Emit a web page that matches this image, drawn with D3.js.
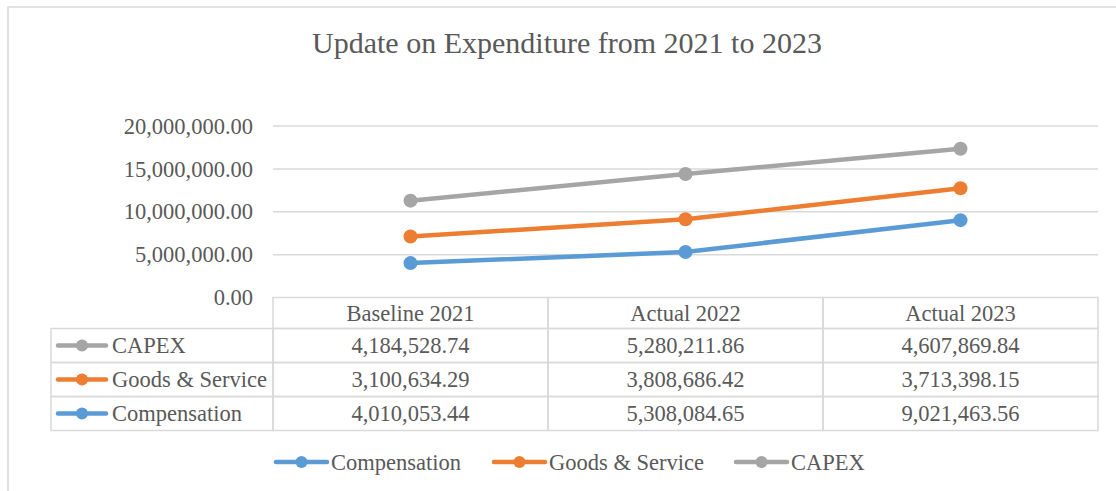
<!DOCTYPE html>
<html>
<head>
<meta charset="utf-8">
<script src="https://cdn.jsdelivr.net/npm/d3@7"></script>
<style>
  html, body { margin: 0; padding: 0; background: #fff; }
  svg { display: block; }
</style>
</head>
<body>
<svg id="chart" width="1116" height="491"></svg>
<script>
// Expenditure by category (stacked line chart with data table)
const categories = ["Baseline 2021", "Actual 2022", "Actual 2023"];
const compensation = [4010053.44, 5308084.65, 9021463.56];
const goodsService = [3100634.29, 3808686.42, 3713398.15];
const capex = [4184528.74, 5280211.86, 4607869.84];
const seriesNames = ["Compensation", "Goods & Service", "CAPEX"];
const seriesColors = ["#5b9bd5", "#ed7d31", "#a5a5a5"];
const yTicks = [0, 5000000, 10000000, 15000000, 20000000];

const FONT = "Liberation Serif";
const TEXT_COLOR = "#595959";
const LABEL_SIZE = 22.5;
const svg = d3.select("#chart");
const W = 1116, H = 491;

function styleText(sel, size) {
  return sel.attr("font-family", FONT)
    .attr("font-size", size)
    .attr("fill", TEXT_COLOR);
}

// outer chart frame
svg.append("rect")
  .attr("x", 8).attr("y", 7)
  .attr("width", W + 20).attr("height", H + 20)
  .attr("fill", "#fff").attr("stroke", "#d9d9d9").attr("stroke-width", 1.5);

// title
styleText(svg.append("text"), 30)
  .attr("x", 567).attr("y", 53)
  .attr("text-anchor", "middle")
  .text("Update on Expenditure from 2021 to 2023");

const plotLeft = 273, plotRight = 1098, plotTop = 126, plotBottom = 297.5;

const x = d3.scaleBand().domain(categories).range([plotLeft, plotRight]);
const y = d3.scaleLinear().domain([0, 20000000]).range([plotBottom, plotTop]);

const fmt = d3.format(",.2f");

// gridlines
svg.append("g")
  .selectAll("line")
  .data(yTicks.filter(d => d > 0))
  .join("line")
  .attr("x1", plotLeft).attr("x2", plotRight)
  .attr("y1", d => y(d)).attr("y2", d => y(d))
  .attr("stroke", "#d9d9d9").attr("stroke-width", 1.5);

// y axis labels
const yAxis = d3.axisLeft(y).tickValues(yTicks).tickFormat(fmt).tickSize(0).tickPadding(20);
const yg = svg.append("g").attr("transform", `translate(${plotLeft},0)`).call(yAxis);
yg.attr("font-family", FONT).attr("font-size", LABEL_SIZE);
yg.select(".domain").remove();
yg.selectAll("text").attr("fill", TEXT_COLOR);

// stacked series
const rows = categories.map((c, i) => ({
  cat: c,
  "Compensation": compensation[i],
  "Goods & Service": goodsService[i],
  "CAPEX": capex[i]
}));
const stacked = d3.stack().keys(seriesNames)(rows);

const line = d3.line()
  .x(d => x(d.data.cat) + x.bandwidth() / 2)
  .y(d => y(d[1]));

const sg = svg.append("g");
stacked.forEach((s, i) => {
  sg.append("path")
    .datum(s)
    .attr("d", line)
    .attr("fill", "none")
    .attr("stroke", seriesColors[i])
    .attr("stroke-width", 4.5)
    .attr("stroke-linecap", "round")
    .attr("stroke-linejoin", "round");
  sg.selectAll(null)
    .data(s)
    .join("circle")
    .attr("cx", d => x(d.data.cat) + x.bandwidth() / 2)
    .attr("cy", d => y(d[1]))
    .attr("r", 7)
    .attr("fill", seriesColors[i]);
});

// data table
const tableLeft = 51;
const headerTop = 297.5;
const headerH = 31;
const rowH = 34;
const tableOrder = [
  { name: "CAPEX", values: capex, color: seriesColors[2] },
  { name: "Goods & Service", values: goodsService, color: seriesColors[1] },
  { name: "Compensation", values: compensation, color: seriesColors[0] }
];
const tg = svg.append("g");
const border = "#d9d9d9";

// header cells
categories.forEach(c => {
  tg.append("rect")
    .attr("x", x(c)).attr("y", headerTop)
    .attr("width", x.bandwidth()).attr("height", headerH)
    .attr("fill", "none").attr("stroke", border).attr("stroke-width", 1.5);
  styleText(tg.append("text"), LABEL_SIZE)
    .attr("x", x(c) + x.bandwidth() / 2)
    .attr("y", headerTop + headerH / 2)
    .attr("dy", "0.35em")
    .attr("text-anchor", "middle")
    .text(c);
});

// body rows
tableOrder.forEach((r, ri) => {
  const top = headerTop + headerH + rowH * ri;
  const mid = top + rowH / 2;
  tg.append("rect")
    .attr("x", tableLeft).attr("y", top)
    .attr("width", plotLeft - tableLeft).attr("height", rowH)
    .attr("fill", "none").attr("stroke", border).attr("stroke-width", 1.5);
  // legend key
  tg.append("line")
    .attr("x1", 58).attr("x2", 106)
    .attr("y1", mid).attr("y2", mid)
    .attr("stroke", r.color).attr("stroke-width", 4.5).attr("stroke-linecap", "round");
  tg.append("circle")
    .attr("cx", 82).attr("cy", mid).attr("r", 6).attr("fill", r.color);
  styleText(tg.append("text"), LABEL_SIZE)
    .attr("x", 112).attr("y", mid).attr("dy", "0.35em")
    .text(r.name);
  categories.forEach((c, ci) => {
    tg.append("rect")
      .attr("x", x(c)).attr("y", top)
      .attr("width", x.bandwidth()).attr("height", rowH)
      .attr("fill", "none").attr("stroke", border).attr("stroke-width", 1.5);
    styleText(tg.append("text"), LABEL_SIZE)
      .attr("x", x(c) + x.bandwidth() / 2)
      .attr("y", mid).attr("dy", "0.35em")
      .attr("text-anchor", "middle")
      .text(fmt(r.values[ci]));
  });
});

// bottom legend
const legendItems = [
  { name: "Compensation", color: seriesColors[0], x: 276 },
  { name: "Goods & Service", color: seriesColors[1], x: 494 },
  { name: "CAPEX", color: seriesColors[2], x: 736 }
];
const ly = 462;
const lg = svg.append("g");
legendItems.forEach(it => {
  lg.append("line")
    .attr("x1", it.x).attr("x2", it.x + 51)
    .attr("y1", ly).attr("y2", ly)
    .attr("stroke", it.color).attr("stroke-width", 4.5).attr("stroke-linecap", "round");
  lg.append("circle")
    .attr("cx", it.x + 25.5).attr("cy", ly).attr("r", 6).attr("fill", it.color);
  styleText(lg.append("text"), LABEL_SIZE)
    .attr("x", it.x + 55).attr("y", ly).attr("dy", "0.35em")
    .text(it.name);
});
</script>
</body>
</html>
